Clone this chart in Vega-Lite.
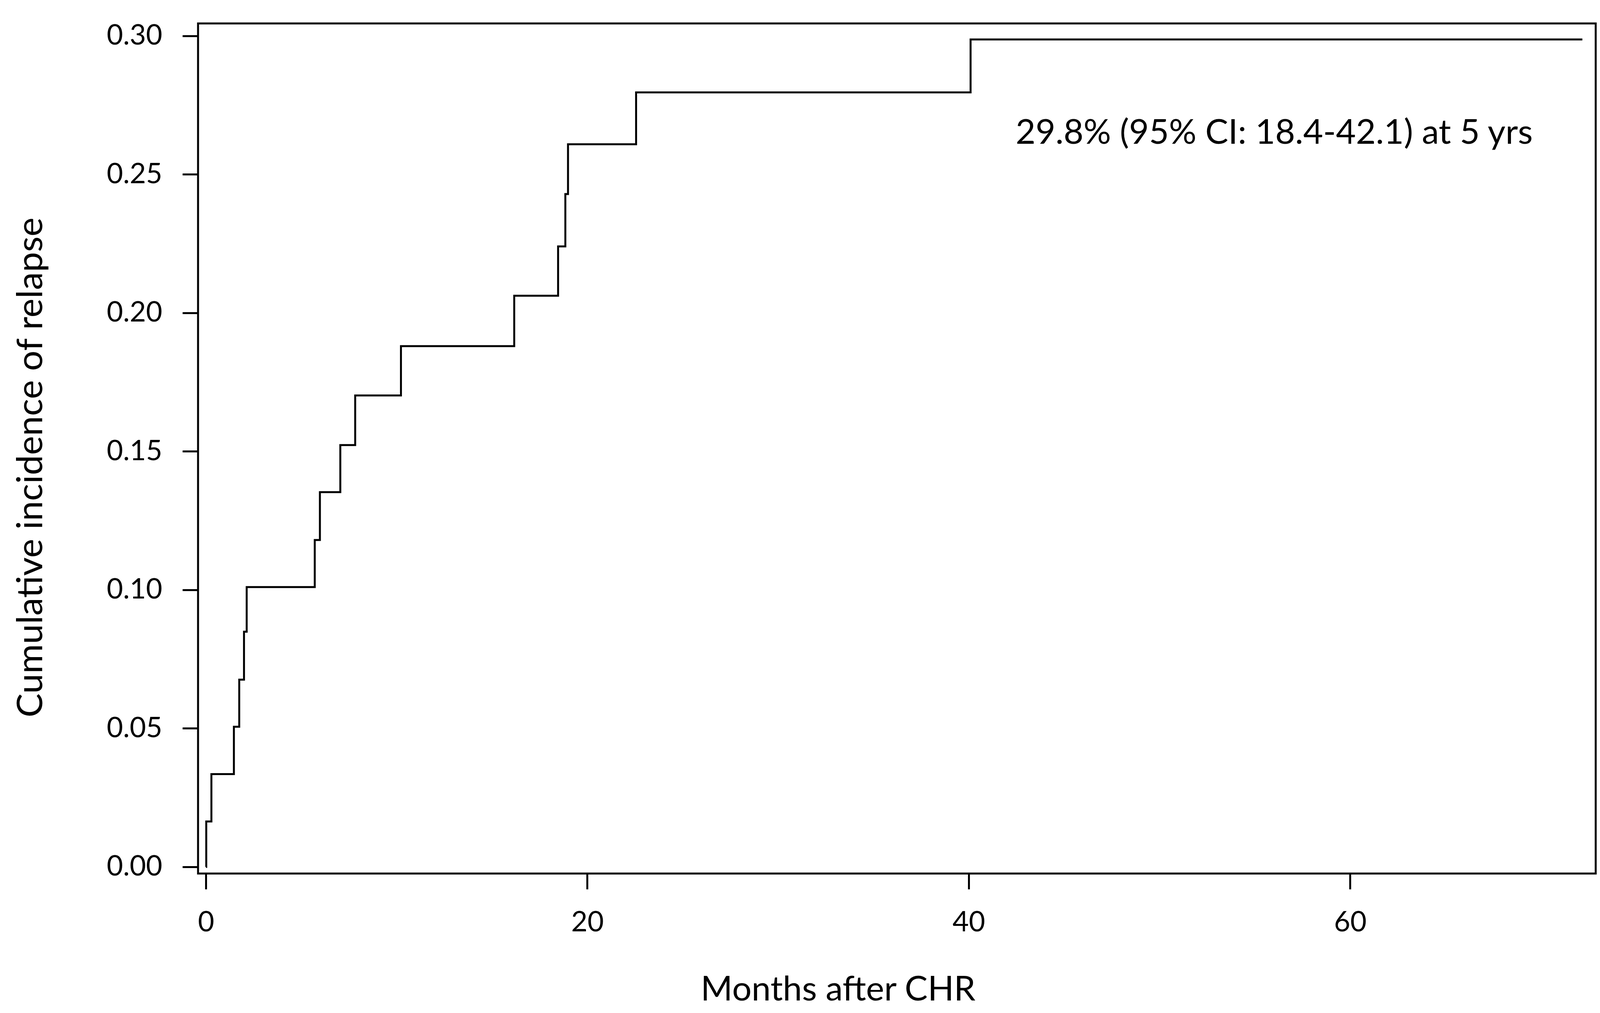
{
  "$schema": "https://vega.github.io/schema/vega-lite/v6.json",
  "width": 3578,
  "height": 2176,
  "autosize": {"type": "none"},
  "padding": {"left": 507, "top": 60, "right": 42, "bottom": 357},
  "background": "white",
  "config": {
    "view": {"stroke": "black", "strokeWidth": 5, "fill": "white"},
    "axis": {
      "grid": false,
      "domain": false,
      "tickColor": "black",
      "tickWidth": 5,
      "tickSize": 40,
      "labelFont": "Lato",
      "labelFontSize": 72,
      "labelColor": "black",
      "titleFont": "Lato",
      "titleFontSize": 88,
      "titleFontWeight": "normal",
      "titleColor": "black"
    }
  },
  "layer": [
    {
      "data": {
        "values": [
          {"month": 0, "ci": 0},
          {"month": 0.02, "ci": 0.0164},
          {"month": 0.29, "ci": 0.0335},
          {"month": 1.47, "ci": 0.0506},
          {"month": 1.75, "ci": 0.0676},
          {"month": 2.0, "ci": 0.0849},
          {"month": 2.14, "ci": 0.101},
          {"month": 5.71, "ci": 0.118},
          {"month": 5.98, "ci": 0.1353},
          {"month": 7.05, "ci": 0.1523},
          {"month": 7.83, "ci": 0.1702},
          {"month": 10.23, "ci": 0.188},
          {"month": 16.17, "ci": 0.2062},
          {"month": 18.47, "ci": 0.224},
          {"month": 18.85, "ci": 0.2429},
          {"month": 18.99, "ci": 0.2609},
          {"month": 22.56, "ci": 0.2796},
          {"month": 40.1, "ci": 0.2987},
          {"month": 72.18, "ci": 0.2987}
        ]
      },
      "mark": {"type": "line", "interpolate": "step-after", "color": "black", "strokeWidth": 5},
      "encoding": {
        "x": {
          "field": "month",
          "type": "quantitative",
          "scale": {"domain": [-0.41, 72.88], "nice": false, "zero": false},
          "axis": {
            "values": [0, 20, 40, 60],
            "title": "Months after CHR",
            "labelPadding": 50,
            "titleX": 1638,
            "titleY": 324,
            "titleAlign": "center",
            "titleBaseline": "alphabetic"
          }
        },
        "y": {
          "field": "ci",
          "type": "quantitative",
          "scale": {"domain": [-0.0024, 0.3045], "nice": false, "zero": false},
          "axis": {
            "values": [0, 0.05, 0.1, 0.15, 0.2, 0.25, 0.3],
            "format": ".2f",
            "title": "Cumulative incidence of relapse",
            "titleFontSize": 92,
            "labelPadding": 52,
            "titleAngle": -90,
            "titleX": -400,
            "titleY": 1136,
            "titleAlign": "center",
            "titleBaseline": "alphabetic"
          }
        }
      }
    },
    {
      "data": {"values": [{"label": "29.8% (95% CI: 18.4-42.1) at 5 yrs"}]},
      "mark": {"type": "text", "font": "Lato", "fontSize": 88, "color": "black", "align": "left", "baseline": "alphabetic"},
      "encoding": {
        "x": {"datum": 42.46},
        "y": {"datum": 0.261},
        "text": {"field": "label"}
      }
    }
  ]
}
